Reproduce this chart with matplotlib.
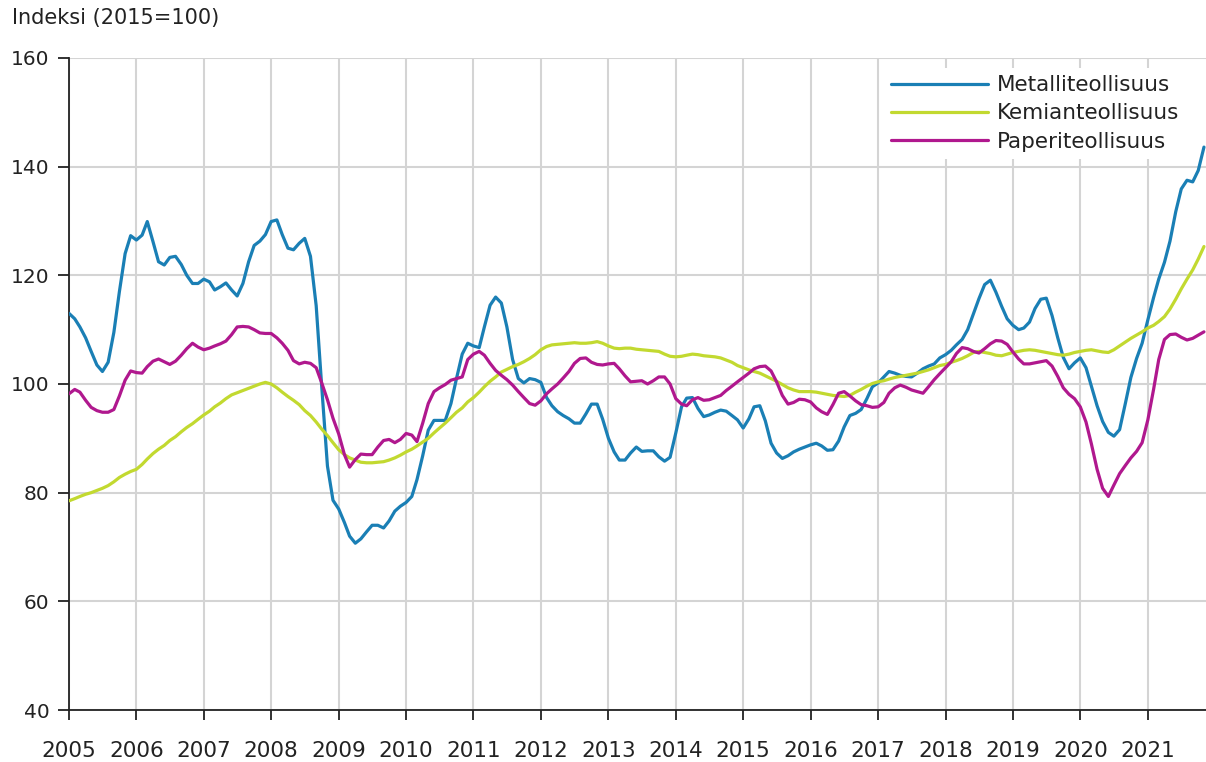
import matplotlib
matplotlib.use("Agg")
import matplotlib.pyplot as plt
import numpy as np
import pandas as pd

# ---- data (monthly index, 2015=100), Jan 2005 .. Nov 2021 ----
metalli = (
    [113, 112, 110.5, 108.5, 106, 103.5, 102.3, 104, 109.5, 117, 124, 127.3] +      # 2005
    [126.5, 127.4, 129.9, 126.2, 122.5, 121.9, 123.3, 123.5, 122, 120, 118.5, 118.5] +  # 2006
    [119.3, 118.8, 117.3, 117.9, 118.6, 117.3, 116.2, 118.5, 122.5, 125.5, 126.3, 127.5] +  # 2007
    [129.9, 130.2, 127.5, 125, 124.7, 125.9, 126.8, 123.5, 114.4, 99.5, 84.9, 78.6] +  # 2008
    [77, 74.5, 72, 70.7, 71.5, 72.8, 74, 74, 73.5, 74.8, 76.6, 77.5] +              # 2009
    [78.2, 79.3, 82.4, 86.8, 91.5, 93.3, 93.3, 93.3, 96.4, 101, 105.5, 107.5] +     # 2010
    [107, 106.7, 110.5, 114.5, 116, 114.9, 110.5, 104.5, 101, 100.2, 101, 100.8] +  # 2011
    [100.3, 97.5, 96, 94.9, 94.2, 93.6, 92.8, 92.8, 94.5, 96.3, 96.3, 93.5] +       # 2012
    [90, 87.5, 86, 86, 87.3, 88.4, 87.6, 87.7, 87.7, 86.6, 85.8, 86.5] +            # 2013
    [91, 95.8, 97.4, 97.5, 95.5, 94, 94.3, 94.8, 95.2, 95, 94.2, 93.4] +            # 2014
    [91.9, 93.6, 95.8, 96, 93.2, 89.1, 87.3, 86.3, 86.8, 87.5, 88, 88.4] +          # 2015
    [88.8, 89.1, 88.6, 87.8, 87.9, 89.5, 92.1, 94.2, 94.6, 95.3, 97.3, 99.5] +      # 2016
    [100.2, 101.3, 102.3, 102, 101.6, 101.4, 101.3, 102, 102.8, 103.3, 103.7, 104.8] +  # 2017
    [105.4, 106.2, 107.2, 108.2, 110, 112.9, 115.7, 118.3, 119.1, 116.9, 114.3, 112] +  # 2018
    [110.8, 110, 110.3, 111.4, 113.9, 115.6, 115.8, 112.6, 108.5, 104.9, 102.8, 103.9] +  # 2019
    [104.8, 103, 99.6, 96, 93.1, 91.1, 90.4, 91.6, 96.4, 101.2, 104.7, 107.5] +     # 2020
    [111.8, 115.9, 119.3, 122.4, 126.3, 131.7, 135.9, 137.5, 137.2, 139.3, 143.6]   # 2021
)

kemia = (
    [78.5, 78.9, 79.3, 79.7, 80.0, 80.4, 80.8, 81.3, 82.0, 82.8, 83.4, 83.9] +
    [84.3, 85.2, 86.2, 87.2, 88.0, 88.7, 89.6, 90.3, 91.2, 92.0, 92.7, 93.5] +
    [94.3, 95.0, 95.8, 96.5, 97.3, 98.0, 98.4, 98.8, 99.2, 99.6, 100.0, 100.3] +
    [100.0, 99.3, 98.5, 97.7, 97.0, 96.2, 95.1, 94.2, 93.0, 91.7, 90.5, 89.2] +
    [87.9, 87.0, 86.4, 86.0, 85.6, 85.5, 85.5, 85.6, 85.7, 86.0, 86.4, 86.9] +
    [87.5, 88.0, 88.6, 89.3, 90.0, 91.0, 91.9, 92.8, 93.8, 94.8, 95.6, 96.7] +
    [97.5, 98.5, 99.5, 100.5, 101.3, 102.2, 102.7, 103.2, 103.6, 104.1, 104.7, 105.4] +
    [106.3, 106.9, 107.2, 107.3, 107.4, 107.5, 107.6, 107.5, 107.5, 107.6, 107.8, 107.5] +
    [107.0, 106.6, 106.5, 106.6, 106.6, 106.4, 106.3, 106.2, 106.1, 106.0, 105.5, 105.1] +
    [105.0, 105.1, 105.3, 105.5, 105.4, 105.2, 105.1, 105.0, 104.8, 104.4, 104.0, 103.4] +
    [103.0, 102.6, 102.3, 102.0, 101.5, 101.0, 100.5, 99.9, 99.3, 98.9, 98.6, 98.6] +
    [98.6, 98.5, 98.3, 98.1, 97.9, 97.8, 97.7, 97.9, 98.5, 99.0, 99.6, 100.1] +
    [100.4, 100.6, 100.9, 101.2, 101.4, 101.6, 101.8, 102.0, 102.3, 102.6, 103.0, 103.4] +
    [103.6, 104.0, 104.3, 104.7, 105.2, 105.8, 106.0, 105.8, 105.6, 105.3, 105.2, 105.5] +
    [105.8, 106.0, 106.2, 106.3, 106.2, 106.0, 105.8, 105.6, 105.4, 105.3, 105.5, 105.8] +
    [106.0, 106.2, 106.3, 106.1, 105.9, 105.8, 106.3, 107.0, 107.7, 108.4, 109.0, 109.6] +
    [110.3, 110.8, 111.5, 112.4, 113.8, 115.6, 117.5, 119.3, 121.0, 123.0, 125.3]
)

paperi = (
    [98.2, 99, 98.5, 97, 95.7, 95.1, 94.8, 94.8, 95.3, 97.8, 100.7, 102.4] +
    [102.1, 102, 103.2, 104.2, 104.6, 104.1, 103.6, 104.2, 105.3, 106.5, 107.5, 106.8] +
    [106.3, 106.6, 107, 107.4, 107.9, 109.1, 110.5, 110.6, 110.5, 110, 109.4, 109.3] +
    [109.3, 108.5, 107.5, 106.2, 104.3, 103.7, 104, 103.8, 103, 100.2, 97.1, 93.7] +
    [90.8, 87, 84.7, 86.1, 87.1, 87, 87, 88.4, 89.6, 89.8, 89.2, 89.8] +
    [90.9, 90.6, 89.4, 92.8, 96.4, 98.6, 99.3, 99.9, 100.7, 101, 101.3, 104.5] +
    [105.5, 106, 105.3, 103.8, 102.5, 101.6, 100.8, 99.8, 98.6, 97.5, 96.4, 96.1] +
    [96.9, 98.2, 99.1, 100, 101.1, 102.3, 103.8, 104.7, 104.8, 104, 103.6, 103.5] +
    [103.7, 103.8, 102.8, 101.5, 100.4, 100.5, 100.6, 100, 100.6, 101.3, 101.3, 100] +
    [97.3, 96.3, 96, 97.1, 97.5, 97, 97.1, 97.5, 97.9, 98.8, 99.6, 100.4] +
    [101.2, 102, 102.8, 103.2, 103.3, 102.4, 100.4, 97.9, 96.3, 96.6, 97.2, 97.1] +
    [96.7, 95.6, 94.9, 94.4, 96.2, 98.3, 98.6, 97.8, 96.9, 96.2, 96, 95.7] +
    [95.8, 96.6, 98.3, 99.3, 99.8, 99.4, 98.9, 98.6, 98.3, 99.5, 100.8, 101.9] +
    [103, 104.1, 105.6, 106.7, 106.5, 106, 105.7, 106.5, 107.4, 108, 107.9, 107.3] +
    [105.9, 104.6, 103.7, 103.7, 103.9, 104.1, 104.3, 103.3, 101.4, 99.3, 98.1, 97.3] +
    [95.8, 93, 89, 84.3, 80.8, 79.3, 81.4, 83.5, 85, 86.4, 87.6, 89.2] +
    [93.4, 99, 104.5, 108.2, 109.1, 109.2, 108.6, 108.1, 108.4, 109, 109.6]
)

series_names = ["Metalliteollisuus", "Kemianteollisuus", "Paperiteollisuus"]
series_colors = ["#1a7fb5", "#c2d930", "#b0188e"]
year_labels = [str(y) for y in range(2005, 2022)]
y_ticks = [40, 60, 80, 100, 120, 140, 160]

dates = pd.date_range("2005-01-01", periods=len(metalli), freq="MS")

plt.rcParams["font.family"] = ["DejaVu Sans"]

fig = plt.figure(figsize=(12.06, 7.62), dpi=100)
ax = fig.add_axes([69 / 1206, 1 - 710 / 762, 1 - 69 / 1206, (710 - 58) / 762])

for vals, name, col in zip([metalli, kemia, paperi], series_names, series_colors):
    ax.plot(dates, vals, color=col, lw=2.3, label=name, solid_joinstyle="round",
            solid_capstyle="round", zorder=3)

ax.set_ylim(40, 160)
ax.set_yticks(y_ticks)
ax.set_xlim(pd.Timestamp("2005-01-01"), pd.Timestamp("2021-11-12"))
ax.set_xticks([pd.Timestamp(f"{y}-01-01") for y in year_labels])
ax.set_xticklabels(year_labels)

ax.grid(True, color="#d4d4d4", lw=1.5, zorder=0)
ax.set_axisbelow(True)
for s in ["top", "right"]:
    ax.spines[s].set_visible(False)
for s in ["left", "bottom"]:
    ax.spines[s].set_color("#222222")
    ax.spines[s].set_linewidth(1.3)

ax.tick_params(axis="y", length=8, width=1.3, pad=6, labelsize=14.5, colors="#222222")
ax.tick_params(axis="x", length=7, width=1.3, pad=15, labelsize=15.5, colors="#222222")

fig.text(12 / 1206, 1 - 18 / 762, "Indeksi (2015=100)", fontsize=15, color="#222222",
         ha="left", va="center")

leg = ax.legend(loc="upper left", bbox_to_anchor=(0.716, 0.985), frameon=True,
                fontsize=15.5, handlelength=4.5, handletextpad=0.45, labelspacing=0.38,
                borderpad=0.35, borderaxespad=0)
leg.get_frame().set_facecolor("white")
leg.get_frame().set_edgecolor("none")
leg.get_frame().set_alpha(1)
leg.get_frame().set_boxstyle("square", pad=0)
for line in leg.get_lines():
    line.set_linewidth(2.3)
for t in leg.get_texts():
    t.set_color("#222222")

fig.savefig("out.png", dpi=100)
